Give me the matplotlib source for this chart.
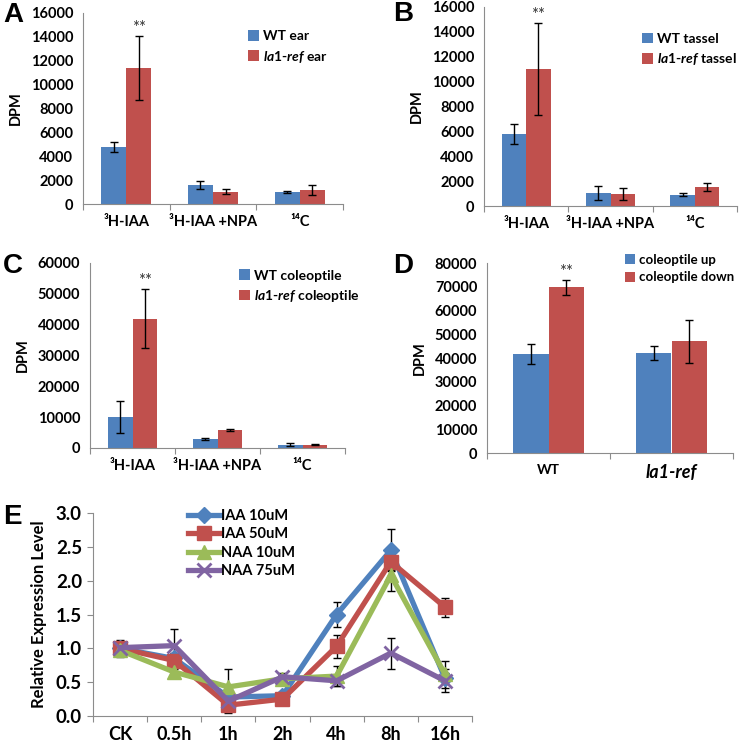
import matplotlib
matplotlib.use("Agg")
import matplotlib.pyplot as plt
import numpy as np

plt.rcParams['font.family'] = ['Lato', 'DejaVu Sans']
plt.rcParams['font.weight'] = 'bold'
plt.rcParams['mathtext.fontset'] = 'custom'
plt.rcParams['mathtext.it'] = 'Lato:italic:bold'
plt.rcParams['mathtext.rm'] = 'Lato:bold'

# data
cats_abc = ["³H-IAA", "³H-IAA +NPA", "¹⁴C"]

a_wt = [4750, 1600, 1000]
a_wt_err = [420, 330, 60]
a_la = [11400, 1030, 1200]
a_la_err = [2700, 200, 430]

b_wt = [5770, 1020, 910]
b_wt_err = [800, 560, 130]
b_la = [11000, 970, 1500]
b_la_err = [3700, 500, 330]

c_wt = [10050, 2900, 1100]
c_wt_err = [5300, 300, 450]
c_la = [42000, 5700, 1100]
c_la_err = [9600, 300, 150]

cats_d = ["WT", "la1-ref"]
d_up = [41700, 42200]
d_up_err = [4100, 2900]
d_down = [69800, 47000]
d_down_err = [3100, 9100]

times = ["CK", "0.5h", "1h", "2h", "4h", "8h", "16h"]
iaa10 = [1.0, 0.85, 0.28, 0.3, 1.5, 2.45, 0.56]
iaa10_err = [0.1, 0.08, 0.08, 0.06, 0.19, 0.31, 0.08]
iaa50 = [1.0, 0.82, 0.16, 0.25, 1.03, 2.28, 1.61]
iaa50_err = [0.13, 0.1, 0.12, 0.05, 0.17, 0.12, 0.14]
naa10 = [0.97, 0.65, 0.43, 0.55, 0.59, 2.08, 0.62]
naa10_err = [0.08, 0.05, 0.27, 0.05, 0.15, 0.23, 0.2]
naa75 = [1.01, 1.04, 0.22, 0.58, 0.52, 0.93, 0.52]
naa75_err = [0.06, 0.25, 0.06, 0.05, 0.07, 0.23, 0.17]

BLUE = "#4F81BD"
RED = "#C0504D"
GREEN = "#9BBB59"
PURPLE = "#8064A2"

W, H = 740, 745
fig = plt.figure(figsize=(W / 100, H / 100), dpi=100)


def add_ax(left, right, top, bottom):
    return fig.add_axes([left / W, 1 - bottom / H, (right - left) / W, (bottom - top) / H])


def style_axes(ax, ncat, ysize):
    for s in ["top", "right"]:
        ax.spines[s].set_visible(False)
    for s in ["left", "bottom"]:
        ax.spines[s].set_color("#8c8c8c")
    ax.set_xlim(-0.5, ncat - 0.5)
    ax.set_xticks(np.arange(ncat + 1) - 0.5)
    ax.set_xticklabels([])
    ax.tick_params(axis="x", which="major", length=4, color="#8c8c8c", direction="out")
    ax.tick_params(axis="y", length=0, labelsize=ysize, pad=7)


def bar_panel(ax, cats, s1, e1, s2, e2, lab1, lab2, ymax, step, leg_xy, letter, star_idx, leg_size=10):
    n = len(cats)
    x = np.arange(n)
    w = 0.29
    ax.bar(x - w / 2, s1, w, color=BLUE, label=lab1)
    ax.bar(x + w / 2, s2, w, color=RED, label=lab2)
    ax.errorbar(x - w / 2, s1, yerr=e1, fmt="none", ecolor="black", elinewidth=1, capsize=3, capthick=1)
    ax.errorbar(x + w / 2, s2, yerr=e2, fmt="none", ecolor="black", elinewidth=1, capsize=3, capthick=1)
    style_axes(ax, n, 10.5)
    ax.set_ylim(0, ymax)
    ax.set_yticks(np.arange(0, ymax + 1, step))
    ax.set_xticks(x, minor=True)
    ax.set_xticklabels(cats, minor=True, fontsize=10.5, fontweight="bold")
    ax.tick_params(axis="x", which="minor", length=0, pad=8)
    ax.set_ylabel("DPM", fontsize=10.5, fontweight="bold", labelpad=6)
    i = star_idx
    ax.annotate("**", (x[i] + w / 2, s2[i] + e2[i]), xytext=(0, 0), textcoords="offset points",
                ha="center", va="bottom", fontsize=12, fontweight="normal", color="#333333")
    ax.legend(loc="upper left", bbox_to_anchor=leg_xy, frameon=False, fontsize=leg_size,
              handlelength=0.8, handleheight=0.8, handletextpad=0.3, labelspacing=0.45,
              borderaxespad=0, borderpad=0)
    fig.text(letter[0] / W, 1 - letter[1] / H, letter[2],
             fontsize=20, fontweight="bold", family="Liberation Sans", va="center", ha="left")
    return ax


axA = add_ax(83, 343, 13, 204)
bar_panel(axA, cats_abc, a_wt, a_wt_err, a_la, a_la_err,
          "WT ear", r"$\mathit{la1}$-$\mathit{ref}$ ear", 16000, 2000,
          (0.635, 0.91), (3, 15, "A"), 0)

axB = add_ax(484, 737, 7, 206)
bar_panel(axB, cats_abc, b_wt, b_wt_err, b_la, b_la_err,
          "WT tassel", r"$\mathit{la1}$-$\mathit{ref}$ tassel", 16000, 2000,
          (0.625, 0.87), (370 + 23, 14, "B"), 0)

axC = add_ax(90, 345, 263, 448)
bar_panel(axC, cats_abc, c_wt, c_wt_err, c_la, c_la_err,
          "WT coleoptile", r"$\mathit{la1}$-$\mathit{ref}$ coleoptile", 60000, 10000,
          (0.585, 0.965), (3, 266, "C"), 0)

axD = add_ax(487, 733, 263, 453)
bar_panel(axD, cats_d, d_up, d_up_err, d_down, d_down_err,
          "coleoptile up", "coleoptile down", 80000, 10000,
          (0.56, 1.05), (370 + 23, 266, "D"), 0, leg_size=9.5)
dl = axD.get_xticklabels(minor=True)
dl[0].set_fontsize(10)
dl[1].set_fontstyle("italic")
dl[1].set_fontsize(13)

# panel E
axE = add_ax(93, 472, 513, 716)
x = np.arange(len(times))
series = [
    (iaa10, iaa10_err, BLUE, "D", 8, "IAA 10uM"),
    (iaa50, iaa50_err, RED, "s", 10, "IAA 50uM"),
    (naa10, naa10_err, GREEN, "^", 10, "NAA 10uM"),
    (naa75, naa75_err, PURPLE, "x", 10, "NAA 75uM"),
]
for vals, errs, col, mk, ms, lab in series:
    axE.errorbar(x, vals, yerr=errs, fmt="none", ecolor="black", elinewidth=1, capsize=3, capthick=1, zorder=1)
for vals, errs, col, mk, ms, lab in series:
    axE.plot(x, vals, color=col, lw=3.8, marker=mk, ms=ms, mew=2 if mk == "x" else 1,
             mec=col, mfc=col, label=lab, zorder=2)
style_axes(axE, len(times), 13.5)
axE.set_ylim(0, 3.0)
axE.set_yticks(np.arange(0, 3.01, 0.5))
axE.set_yticklabels([f"{v:.1f}" for v in np.arange(0, 3.01, 0.5)])
axE.tick_params(axis="y", length=4, color="#8c8c8c", pad=4)
axE.set_xticks(x, minor=True)
axE.set_xticklabels(times, minor=True, fontsize=13, fontweight="bold")
axE.tick_params(axis="x", which="minor", length=0, pad=7)
axE.set_ylabel("Relative Expression Level", fontsize=12, fontweight="bold", labelpad=6)
axE.legend(loc="upper left", bbox_to_anchor=(0.25, 1.02), frameon=False, fontsize=10.5,
           handlelength=2.2, handletextpad=0.1, labelspacing=0.3, borderaxespad=0, borderpad=0)
fig.text(3 / W, 1 - 517 / H, "E", fontsize=20, fontweight="bold", family="Liberation Sans", va="center")

fig.savefig("out.png", dpi=100)
